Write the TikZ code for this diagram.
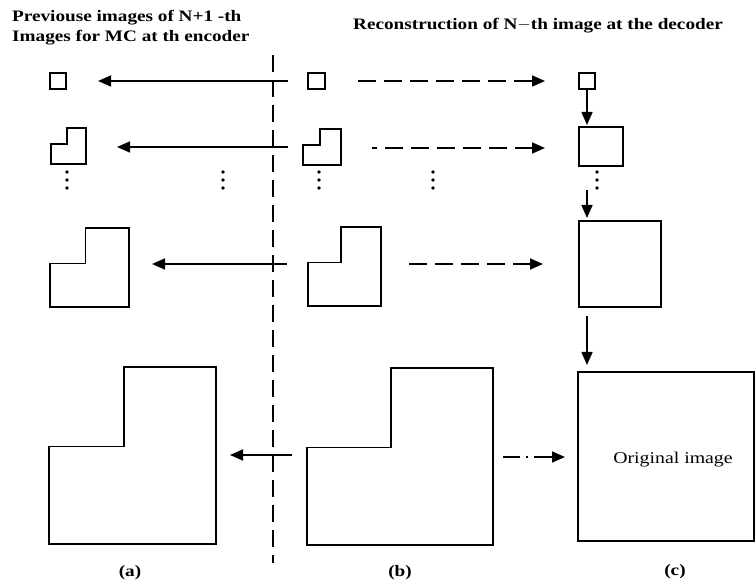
\documentclass[tikz,border=0pt]{standalone}
\usepackage{fontspec}
\setmainfont{Liberation Serif}
\newfontfamily\labfont[FakeStretch=1.2]{Liberation Serif}
\usetikzlibrary{arrows.meta,calc}
\tikzset{
  frame/.style={draw, line width=1.6pt, inner sep=0pt, outer sep=0pt},
  ghost/.style={inner sep=0pt, outer sep=0pt},
  lline/.style={line width=1.6pt, line join=miter},
  arr/.style={line width=1.6pt, -{Triangle[length=13pt,width=11pt]}},
  darr/.style={arr, dash pattern=on 18pt off 8pt},
  dotarr/.style={arr, dash pattern=on 17pt off 6pt on 2pt off 6pt on 80pt},
  divider/.style={line width=1.6pt, dash pattern=on 17pt off 8pt},
  vdot/.style={fill=black, circle, inner sep=0pt, minimum size=3.6pt},
  txt/.style={font=\labfont\bfseries\fontsize{16}{19}\selectfont, inner sep=0pt},
}
\newcommand{\boxnode}[6]{%
  \node[#6, minimum width={#4-#2}, minimum height={#5-#3}] (#1) at ({(#2+#4)/2},{(#3+#5)/2}) {};}
\newcommand{\Lshape}[1]{%
  \coordinate (#1n) at ($(#1.north west)!0.45!(#1.south east)$);
  \draw[lline] (#1.south west) -- (#1.west |- #1n) -- (#1n) -- (#1n |- #1.north)
     -- (#1.north east) -- (#1.south east) -- cycle;}
\newcommand{\dotcol}[2]{%
  \node[vdot] (#1a) at (#2,172) {};
  \node[vdot] (#1b) at (#2,180) {};
  \node[vdot] (#1c) at (#2,188) {};}
\begin{document}
\begin{tikzpicture}[x=1pt,y=-1pt]
\useasboundingbox (0,0) rectangle (756,585);

% titles
\node[txt, anchor=base west] (t1) at (12,22) {Previouse images of N+1 -th};
\node[txt, anchor=base west] (t2) at (12,42) {Images for MC at th encoder};
\node[txt, anchor=base west] (t3) at (353,30) {Reconstruction of N$-$th image at the decoder};

% column (a)
\boxnode{a1}{50}{73}{66}{89}{frame}
\boxnode{a2}{51}{128}{86}{164}{ghost}
\boxnode{a3}{50}{228}{129}{307}{ghost}
\boxnode{a4}{49}{367}{216}{544}{ghost}
% column (b)
\boxnode{b1}{308}{73}{325}{89}{frame}
\boxnode{b2}{303}{129}{341}{165}{ghost}
\boxnode{b3}{308}{227}{381}{306}{ghost}
\boxnode{b4}{307}{368}{493}{545}{ghost}
% column (c)
\boxnode{c1}{579}{73}{595}{89}{frame}
\boxnode{c2}{579}{127}{623}{166}{frame}
\boxnode{c3}{579}{221}{661}{307}{frame}
\boxnode{c4}{578}{372}{754}{541}{frame}

\Lshape{a2}\Lshape{a3}\Lshape{a4}
\Lshape{b2}\Lshape{b3}\Lshape{b4}

\node[txt, font=\labfont\fontsize{16.5}{19}\selectfont] (orig) at (673,460) {Original image};

% divider
\coordinate (dtop) at (273,55);
\coordinate (dbot) at (273,563);
\draw[divider] (dtop) -- (dbot);

% arrows b -> a
\draw[arr, shorten <=20pt, shorten >=32pt] (b1.west) -- (a1.east |- b1.west);
\draw[arr, shorten <=15pt, shorten >=31pt] (b2.west |- 0,147) -- (a2.east |- 0,147);
\draw[arr, shorten <=21pt, shorten >=23pt] (b3.west |- c3) -- (a3.east |- c3);
\draw[arr, shorten <=15pt, shorten >=14pt] (b4.west |- 0,455) -- (a4.east |- 0,455);

% arrows b -> c
\draw[darr, shorten <=33pt, shorten >=34pt] (b1.east) -- (c1.west);
\draw[darr, dash phase=13pt, shorten <=31pt, shorten >=34pt] (b2.east |- 0,148) -- (c2.west |- 0,148);
\draw[darr, shorten <=28pt, shorten >=36pt] (b3.east |- c3) -- (c3.west);
\draw[dotarr, shorten <=10pt, shorten >=13pt] (b4.east |- 0,457) -- (c4.west |- 0,457);

% arrows down c
\draw[arr, shorten <=1pt, shorten >=2pt] (c1.south) -- (c1.south |- c2.north);
\draw[arr, shorten <=24pt, shorten >=3pt] (c1.south |- c2.south) -- (c1.south |- c3.north);
\draw[arr, shorten <=9pt, shorten >=7pt] (c1.south |- c3.south) -- (c1.south |- c4.north);

% ellipses
\dotcol{da}{67}
\dotcol{dm}{223}
\dotcol{db}{319}
\dotcol{dn}{433}
\dotcol{dc}{597}

% labels
\node[txt] (la) at (130,573) {(a)};
\node[txt] (lb) at (400,573) {(b)};
\node[txt] (lc) at (675,572) {(c)};
\end{tikzpicture}
\end{document}
